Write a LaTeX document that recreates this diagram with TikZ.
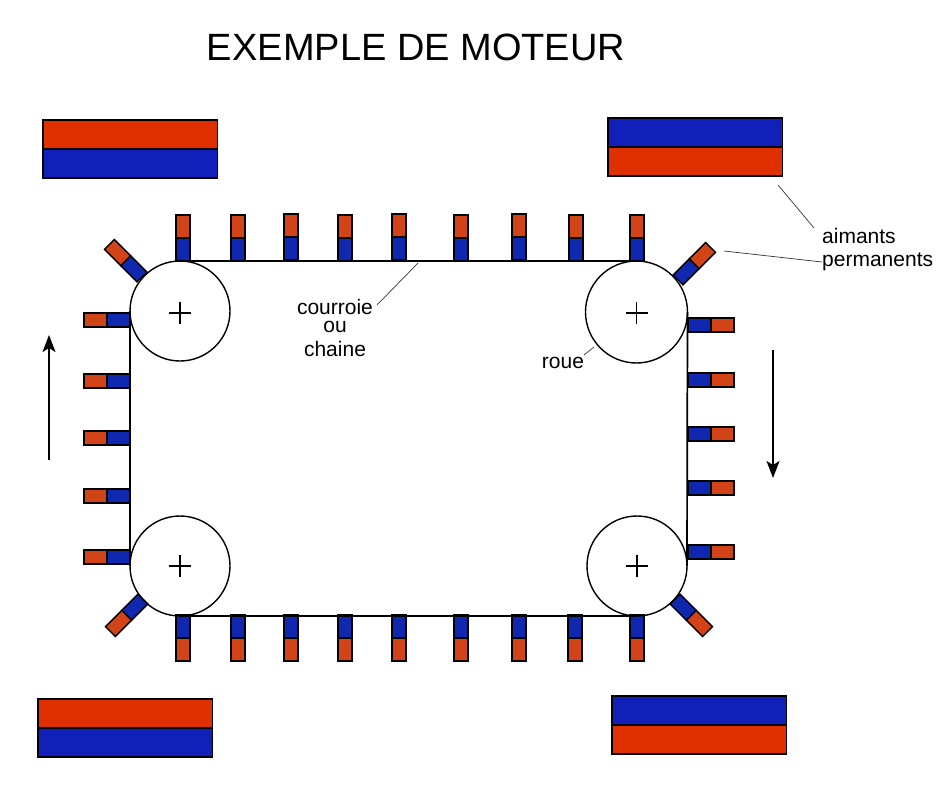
\documentclass[tikz,border=0pt]{standalone}
\usepackage{fontspec}
\setmainfont{Liberation Sans}
\usetikzlibrary{arrows.meta}
\definecolor{bigred}{HTML}{E03000}
\definecolor{bigblue}{HTML}{1020B8}
\definecolor{smallred}{HTML}{D24318}
\definecolor{smallblue}{HTML}{1027B0}
\tikzset{
  wheel/.style={draw=black,line width=1.4pt,circle,minimum size=100pt,inner sep=0pt,outer sep=0pt},
  belt/.style={line width=1.7pt,draw=black},
  crossbar/.style={line width=1.3pt,draw=black},
  leader/.style={line width=0.7pt,draw=black!80},
  motion/.style={line width=1.5pt,draw=black,-{Stealth[length=17pt,width=13pt,inset=4pt]}},
  label/.style={inner sep=0pt,font=\fontsize{21}{23}\selectfont},
  mag/.style={draw=black,line width=1.4pt},
}
\newcommand{\smallmag}[3]{%
  \begin{scope}[shift={(#1,#2)},rotate=#3]
    \filldraw[mag,fill=smallblue] (0,-7) rectangle (23,7);
    \filldraw[mag,fill=smallred] (23,-7) rectangle (46,7);
  \end{scope}}
\newcommand{\bigmag}[4]{%
  \filldraw[mag,fill=#3] (#1,#2) rectangle ++(174.5,29);
  \filldraw[mag,fill=#4] (#1,#2+29) rectangle ++(174.5,29);}
\begin{document}
\begin{tikzpicture}[x=1pt,y=-1pt]
\useasboundingbox (0,0) rectangle (950,800);
\fill[white] (0,0) rectangle (950,800);

\node[inner sep=0pt,font=\fontsize{38}{41}\selectfont] (title) at (416,47) {EXEMPLE DE MOTEUR};

\bigmag{43}{120}{bigred}{bigblue}
\bigmag{608}{118}{bigblue}{bigred}
\bigmag{38}{699}{bigred}{bigblue}
\bigmag{612}{696}{bigblue}{bigred}

\foreach \x/\y in {183/261,238/261,291/260,345/261,399/260,461/261,519/260,576/261,637/261}
  {\smallmag{\x}{\y}{90}}
\foreach \x in {183,238,291,345,399,461,519,575,637}
  {\smallmag{\x}{615}{-90}}
\foreach \y in {320,381,438,496,557}
  {\smallmag{130}{\y}{180}}
\foreach \y/\x in {325/688,380/688,434/688,488/688,552/688}
  {\smallmag{\x}{\y}{0}}
\smallmag{142}{277}{135}
\smallmag{678}{280}{45}
\smallmag{143}{599}{225}
\smallmag{675}{599}{-45}

\node[wheel] (w1) at (180,311) {};
\node[wheel,minimum size=102pt] (w2) at (636.5,312) {};
\node[wheel] (w3) at (180,566) {};
\node[wheel] (w4) at (637,566) {};
\foreach \w/\d in {w1/2,w2/1,w3/0,w4/0}{
  \draw[crossbar] (\w.center) +(-11,\d) -- +(11,\d);
  \draw[crossbar] (\w.center) +(0,\d-11) -- +(0,\d+11);
}
\draw[belt] (w1.north) -- (w2.north);
\draw[belt] (w3.south) -- (w4.south);
\draw[belt] (w1.west) -- (w3.west);
\draw[belt] (w2.east) -- (w4.east);

\coordinate (upS) at (49,460);
\coordinate (upE) at (49,335);
\coordinate (dnS) at (773,350);
\coordinate (dnE) at (773,478);
\draw[motion] (upS) -- (upE);
\draw[motion] (dnS) -- (dnE);

\node[label] (courroie) at (335,307) {courroie};
\node[label] (ou) at (335,327) {ou};
\node[label] (chaine) at (335,349) {chaine};
\node[label] (roue) at (563,363) {roue};
\node[label,anchor=west] (aimants) at (822,236) {aimants};
\node[label,anchor=west] (permanents) at (822,262) {permanents};

\coordinate (c1) at (377,305);
\coordinate (c2) at (418,263);
\coordinate (r1) at (584,355);
\coordinate (r2) at (594,347);
\coordinate (a1) at (778,185);
\coordinate (a2) at (814,228);
\coordinate (p1) at (724,251);
\coordinate (p2) at (822,262);
\draw[leader] (c1) -- (c2);
\draw[leader] (r1) -- (r2);
\draw[leader] (a1) -- (a2);
\draw[leader] (p1) -- (p2);
\end{tikzpicture}
\end{document}
